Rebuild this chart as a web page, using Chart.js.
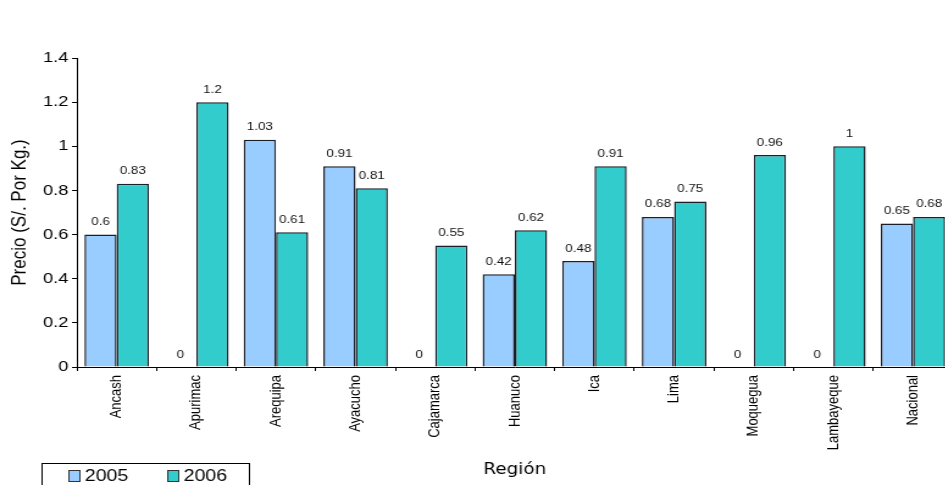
<!DOCTYPE html>
<html>
<head>
<meta charset="utf-8">
<script src="https://cdn.jsdelivr.net/npm/chart.js@4"></script>
<style>
  html, body { margin: 0; padding: 0; background: #fff; overflow: hidden; width: 945px; height: 485px; }
  #wrap { width: 785px; height: 485px; transform: scaleX(1.22); transform-origin: 0 0; }
</style>
</head>
<body>
<div id="wrap"><canvas id="c" width="785" height="485"></canvas></div>
<script>
// Precio promedio por región (S/. por Kg.)
const regions = ['Ancash', 'Apurimac', 'Arequipa', 'Ayacucho', 'Cajamarca', 'Huanuco', 'Ica', 'Lima', 'Moquegua', 'Lambayeque', 'Nacional'];
const seriesNames = ['2005', '2006'];
const values2005 = [0.6, 0, 1.03, 0.91, 0, 0.42, 0.48, 0.68, 0, 0, 0.65];
const values2006 = [0.83, 1.2, 0.61, 0.81, 0.55, 0.62, 0.91, 0.75, 0.96, 1, 0.68];
const yTicks = [0, 0.2, 0.4, 0.6, 0.8, 1, 1.2, 1.4];

const COLOR_2005 = '#99ccff';
const COLOR_2006 = '#33cccc';
const BAR_EDGE = '#1b1f2a';

// Value printed above each bar
const valueLabels = {
  id: 'valueLabels',
  afterDatasetsDraw(chart) {
    const ctx = chart.ctx;
    ctx.save();
    ctx.font = '11px "Liberation Sans", Arial, sans-serif';
    ctx.fillStyle = '#111';
    ctx.textAlign = 'center';
    ctx.textBaseline = 'bottom';
    chart.data.datasets.forEach((ds, i) => {
      chart.getDatasetMeta(i).data.forEach((bar, j) => {
        ctx.fillText(String(ds.data[j]), bar.x, bar.y - 7);
      });
    });
    ctx.restore();
  }
};

// Framed legend in the lower-left corner
const boxLegend = {
  id: 'boxLegend',
  afterDraw(chart) {
    const ctx = chart.ctx;
    ctx.save();
    ctx.strokeStyle = '#000';
    ctx.lineWidth = 1;
    ctx.strokeRect(34.5, 463.5, 170, 40);
    ctx.font = '16px "Liberation Sans", Arial, sans-serif';
    ctx.textBaseline = 'middle';
    ctx.textAlign = 'left';
    const slots = [56.5, 137.5];
    chart.data.datasets.forEach((ds, i) => {
      const x = slots[i];
      ctx.fillStyle = ds.backgroundColor;
      ctx.fillRect(x, 470.5, 9, 11);
      ctx.strokeStyle = '#333';
      ctx.strokeRect(x, 470.5, 9, 11);
      ctx.fillStyle = '#000';
      ctx.fillText(ds.label, x + 13, 477);
    });
    ctx.restore();
  }
};

new Chart(document.getElementById('c'), {
  type: 'bar',
  data: {
    labels: regions,
    datasets: [
      { label: seriesNames[0], data: values2005, backgroundColor: COLOR_2005, borderColor: BAR_EDGE, borderWidth: 1.5, borderSkipped: 'start' },
      { label: seriesNames[1], data: values2006, backgroundColor: COLOR_2006, borderColor: BAR_EDGE, borderWidth: 1.5, borderSkipped: 'start' }
    ]
  },
  options: {
    responsive: false,
    animation: false,
    devicePixelRatio: 1,
    layout: { padding: { top: 58, right: 4, left: 0, bottom: 0 } },
    datasets: { bar: { categoryPercentage: 0.81, barPercentage: 1.0 } },
    plugins: { legend: { display: false }, tooltip: { enabled: false } },
    scales: {
      x: {
        grid: { display: true, drawOnChartArea: false, drawTicks: true, tickLength: 4, color: '#000', offset: true },
        border: { display: true, color: '#000', width: 1 },
        ticks: {
          minRotation: 90, maxRotation: 90, autoSkip: false, padding: 4, color: '#000',
          font: { family: '"Liberation Sans", Arial, sans-serif', size: 13 }
        },
        title: {
          display: true, text: 'Región', color: '#000',
          font: { family: '"DejaVu Sans", Verdana, sans-serif', size: 15 },
          padding: { top: 0, bottom: 6 }
        },
        afterFit(scale) { scale.height = 118; }
      },
      y: {
        min: 0, max: 1.4,
        afterBuildTicks(scale) { scale.ticks = yTicks.map(v => ({ value: v })); },
        grid: { display: true, drawOnChartArea: false, drawTicks: true, tickLength: 4, color: '#000' },
        border: { display: true, color: '#000', width: 1 },
        ticks: {
          padding: 3, color: '#000',
          font: { family: '"Liberation Sans", Arial, sans-serif', size: 15 },
          callback: v => String(+v.toFixed(1))
        },
        title: {
          display: true, text: 'Precio (S/. Por Kg.)', color: '#000',
          font: { family: '"Liberation Sans", Arial, sans-serif', size: 17 },
          padding: { top: 6, bottom: 0 }
        },
        afterFit(scale) { scale.width = 63; }
      }
    }
  },
  plugins: [valueLabels, boxLegend]
});
</script>
</body>
</html>
